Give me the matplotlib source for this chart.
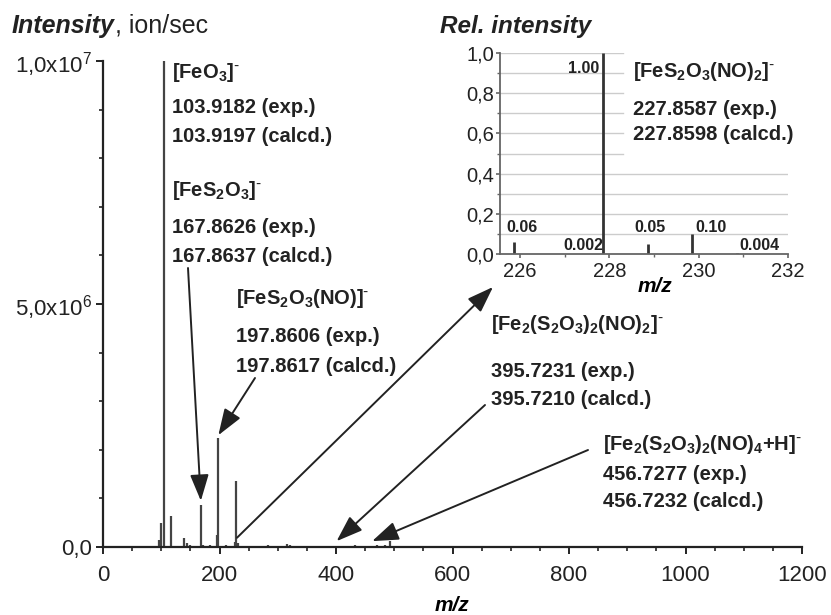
import matplotlib
matplotlib.use('Agg')
import matplotlib.pyplot as plt
from matplotlib.ticker import MultipleLocator, FixedLocator, FixedFormatter

plt.rcParams['font.family'] = ['Liberation Sans', 'DejaVu Sans']
plt.rcParams['mathtext.default'] = 'regular'

W, H = 831, 615

# ---------------- data ----------------
main_mz = [96, 100, 104, 116, 139, 145, 150, 168, 172, 184, 196, 198, 212, 226,
           228, 232, 283, 316, 321, 396, 432, 470, 484, 492, 530, 573]
main_int = [0.15e6, 0.5e6, 1.0e7, 0.64e6, 0.18e6, 0.08e6, 0.05e6, 0.86e6, 0.05e6,
            0.04e6, 0.25e6, 2.24e6, 0.05e6, 0.10e6, 1.36e6, 0.08e6, 0.05e6, 0.06e6,
            0.05e6, 0.03e6, 0.04e6, 0.05e6, 0.05e6, 0.12e6, 0.03e6, 0.03e6]

x_ticks = [0, 200, 400, 600, 800, 1000, 1200]
y_ticks = [0, 5e6, 1e7]
y_ticklabels = ['0,0', '5,0x10$^{6}$', '1,0x10$^{7}$']

ion_formulas = ['[FeO$_3$]$^{\\text{-}}$', '[FeS$_2$O$_3$]$^{\\text{-}}$',
                '[FeS$_2$O$_3$(NO)]$^{\\text{-}}$',
                '[Fe$_2$(S$_2$O$_3$)$_2$(NO)$_2$]$^{\\text{-}}$',
                '[Fe$_2$(S$_2$O$_3$)$_2$(NO)$_4$+H]$^{\\text{-}}$']
ion_exp = ['103.9182', '167.8626', '197.8606', '395.7231', '456.7277']
ion_calc = ['103.9197', '167.8637', '197.8617', '395.7210', '456.7232']
arrow_target_mz = [None, 168, 198, 401, 462]
arrow_target_int = [None, 0.95e6, 2.3e6, 0.12e6, 0.12e6]

inset_mz = [225.86, 226.86, 227.86, 228.86, 229.86, 230.86]
inset_rel = [0.06, 0.002, 1.00, 0.05, 0.10, 0.004]
inset_labels = ['0.06', '0.002', '1.00', '0.05', '0.10', '0.004']
inset_formula = '[FeS$_2$O$_3$(NO)$_2$]$^{\\text{-}}$'
inset_exp = '227.8587'
inset_calc = '227.8598'
inset_xticks = [226, 228, 230, 232]
inset_yticks = [0.0, 0.2, 0.4, 0.6, 0.8, 1.0]
inset_yticklabels = ['0,0', '0,2', '0,4', '0,6', '0,8', '1,0']

# ---------------- layout (pixels) ----------------
def fx(x):
    return x / W

def fy(y):
    return 1 - y / H

fig = plt.figure(figsize=(W / 100, H / 100), dpi=100)
ax = fig.add_axes([fx(103), fy(547), 699 / W, 486 / H])

ax.vlines(main_mz, 0, main_int, color='#444444', lw=1.6)
ax.set_xlim(0, 1200)
ax.set_ylim(0, 1e7)
for s in ['top', 'right']:
    ax.spines[s].set_visible(False)
for s in ['left', 'bottom']:
    ax.spines[s].set_linewidth(1.6)
    ax.spines[s].set_color('#222222')
ax.xaxis.set_major_locator(FixedLocator(x_ticks))
ax.xaxis.set_minor_locator(MultipleLocator(50))
ax.yaxis.set_major_locator(FixedLocator(y_ticks))
ax.yaxis.set_major_formatter(FixedFormatter(y_ticklabels))
ax.yaxis.set_minor_locator(MultipleLocator(1e6))
ax.tick_params(which='major', direction='out', length=5, width=1.4, color='#222222',
               labelsize=16, labelcolor='#222222')
ax.tick_params(axis='x', which='major', pad=8)
ax.tick_params(axis='y', which='major', pad=3)
ax.tick_params(which='minor', direction='out', length=3, width=1.2, color='#222222')
ax.set_xlabel('m/z', fontsize=15, fontweight='bold', fontstyle='italic', va='baseline')
ax.xaxis.set_label_coords(0.5, (547 - 611) / 486)

# titles
t1 = fig.text(fx(12), fy(33), 'Intensity', fontsize=18, fontweight='bold',
              fontstyle='italic', va='baseline', color='#222222')
ax.annotate(', ion/sec', xy=(1, 0), xycoords=t1, va='bottom', ha='left',
            fontsize=18, color='#222222')
fig.text(fx(440), fy(33), 'Rel. intensity', fontsize=17.5, fontweight='bold',
         fontstyle='italic', va='baseline', color='#222222')

# annotation text blocks: (x, formula baseline, exp baseline, calc baseline)
block_pos = [(172, 78, 113, 142), (172, 196, 233, 262), (236, 304, 342, 372),
             (491, 330, 377, 405), (603, 450, 480, 507)]
for (x, b0, b1, b2), f, e, c in zip(block_pos, ion_formulas, ion_exp, ion_calc):
    kw = dict(fontsize=14.5, fontweight='bold', va='baseline', ha='left', color='#222222')
    fig.text(fx(x), fy(b0), f, **kw)
    fig.text(fx(x), fy(b1), e + ' (exp.)', **kw)
    fig.text(fx(x), fy(b2), c + ' (calcd.)', **kw)

# arrows
arrow_tails = [None, (188, 268), (255, 378), (485, 405), (588, 450)]
aprops = dict(arrowstyle='-|>,head_length=0.9,head_width=0.32', color='#222222', lw=1.4,
              shrinkA=0, shrinkB=0, mutation_scale=18)
for tail, mz, it in zip(arrow_tails, arrow_target_mz, arrow_target_int):
    if tail is None:
        continue
    ax.annotate('', xy=(mz, it), xycoords='data', xytext=(tail[0], H - tail[1]),
                textcoords='figure pixels', arrowprops=aprops)
# arrow from the 228 peak towards the inset
ax.annotate('', xy=(493, H - 287), xycoords='figure pixels', xytext=(230, 0.19e6),
            textcoords='data', arrowprops=aprops)

# ---------------- inset ----------------
ax2 = fig.add_axes([fx(500), fy(254), 288 / W, 201 / H])
ax2.set_xlim(225.55, 232)
ax2.set_ylim(0, 1.0)
for g in [0.1, 0.2, 0.3, 0.4, 0.5, 0.6, 0.7, 0.8, 0.9, 1.0]:
    ax2.axhline(g, xmin=0, xmax=1.0 if g < 0.45 else 0.427, color='#cccccc', lw=1.0, zorder=0)
ax2.vlines(inset_mz, 0, inset_rel, color='#333333', lw=2.0)
for s in ['top', 'right']:
    ax2.spines[s].set_visible(False)
for s in ['left', 'bottom']:
    ax2.spines[s].set_linewidth(1.3)
    ax2.spines[s].set_color('#666666')
ax2.xaxis.set_major_locator(FixedLocator(inset_xticks))
ax2.xaxis.set_minor_locator(MultipleLocator(1))
ax2.yaxis.set_major_locator(FixedLocator(inset_yticks))
ax2.yaxis.set_major_formatter(FixedFormatter(inset_yticklabels))
ax2.yaxis.set_minor_locator(MultipleLocator(0.1))
ax2.tick_params(which='major', direction='out', length=3, width=1.2, color='#666666',
                labelsize=14.5, labelcolor='#222222')
ax2.tick_params(axis='y', which='major', pad=1)
ax2.tick_params(axis='x', which='major', pad=3)
ax2.tick_params(which='minor', direction='out', length=2, width=1.0, color='#666666')
ax2.set_xlabel('m/z', fontsize=15, fontweight='bold', fontstyle='italic', va='baseline')
ax2.xaxis.set_label_coords(0.538, (254 - 292) / 201)

# inset stick labels (position in data coords, alignment)
label_pos = [(226.04, 0.11, 'center'), (227.41, 0.02, 'center'), (227.77, 0.90, 'right'),
             (228.91, 0.11, 'center'), (229.93, 0.11, 'left'), (231.37, 0.02, 'center')]
for (x, y, ha), lab in zip(label_pos, inset_labels):
    ax2.text(x, y, lab, fontsize=11.5, fontweight='bold', ha=ha, va='baseline', color='#222222')

kw = dict(fontsize=14.5, fontweight='bold', va='baseline', ha='left', color='#222222')
fig.text(fx(633), fy(77), inset_formula, **kw)
fig.text(fx(633), fy(115), inset_exp + ' (exp.)', **kw)
fig.text(fx(633), fy(140), inset_calc + ' (calcd.)', **kw)

fig.savefig('out.png', dpi=100)
